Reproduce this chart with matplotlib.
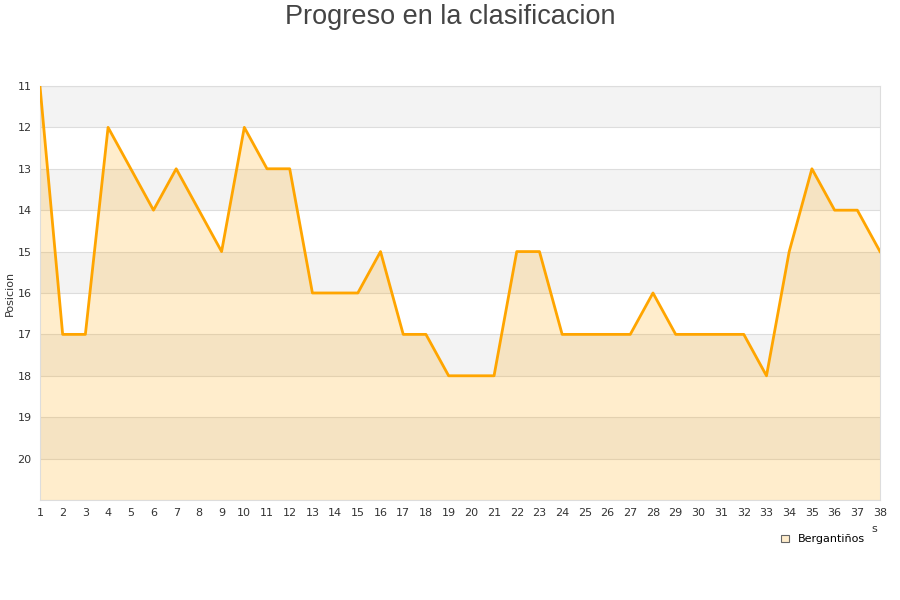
import matplotlib.pyplot as plt
from matplotlib.patches import Patch

jornadas = list(range(1, 39))
posiciones = [11, 17, 17, 12, 13, 14, 13, 14, 15, 12,
              13, 13, 16, 16, 16, 15, 17, 17, 18, 18,
              18, 15, 15, 17, 17, 17, 17, 16, 17, 17,
              17, 17, 18, 15, 13, 14, 14, 15]
y_ticks = list(range(11, 21))
equipo = "Bergantiños"

fig = plt.figure(figsize=(9, 6), dpi=100)
ax = fig.add_axes([0.0444, 0.1667, 0.9334, 0.69])

# bandas alternas
for y in range(11, 21, 2):
    ax.axhspan(y, y + 1, color="#f3f3f3", zorder=0, lw=0)
for y in range(11, 22):
    ax.axhline(y, color="#dddddd", lw=0.8, zorder=1)

ax.fill_between(jornadas, posiciones, 21, color="#ffa500", alpha=0.2, lw=0, zorder=2)
ax.plot(jornadas, posiciones, color="#ffa500", lw=2, zorder=3)

ax.set_xlim(1, 38)
ax.set_ylim(21, 11)
ax.set_xticks(jornadas)
ax.set_yticks(y_ticks)
ax.tick_params(length=0, labelsize=8, colors="#333333", pad=6)
for s in ax.spines.values():
    s.set_color("#dddddd")
ax.set_ylabel("Posicion", fontsize=8, color="#333333", labelpad=2)

fig.text(0.5, 0.972, "Progreso en la clasificacion", ha="center", va="center",
         fontsize=19.5, color="#444444", family="Liberation Sans")
fig.text(0.971, 0.113, "s", fontsize=8, color="#333333", ha="center")

handle = Patch(facecolor="#ffedcc", edgecolor="#666666", lw=0.8)
fig.legend([handle], [equipo], loc="center right", bbox_to_anchor=(0.972, 0.101),
           frameon=False, fontsize=8, handlelength=0.7, handleheight=0.7,
           handletextpad=0.8)

fig.savefig("out.png")
